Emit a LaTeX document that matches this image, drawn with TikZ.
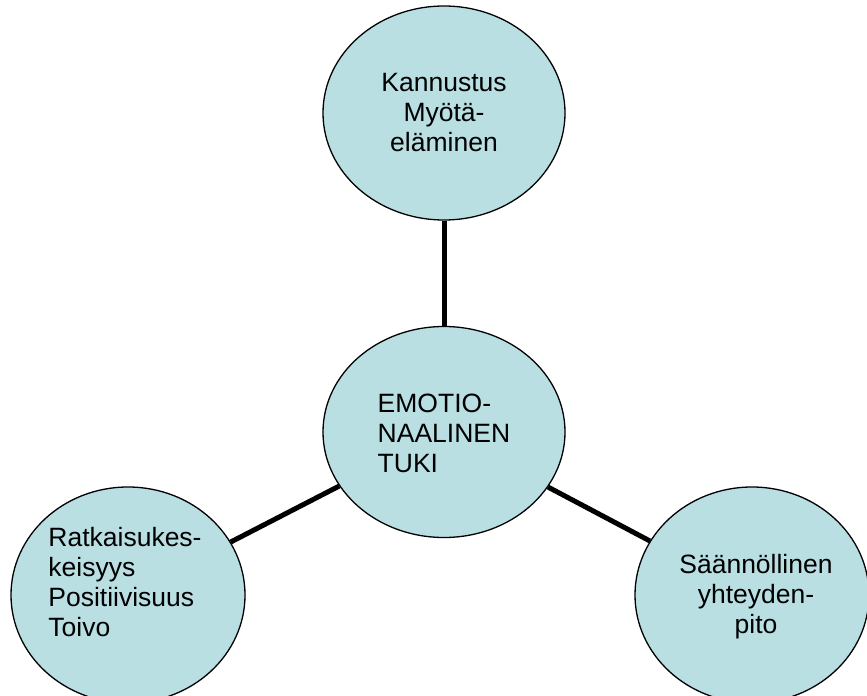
\documentclass[tikz,border=0pt]{standalone}
\usepackage{fontspec}
\setmainfont{Liberation Sans}
\usetikzlibrary{shapes.geometric}
\definecolor{bubblefill}{RGB}{185,223,227}
\tikzset{
  bubble/.style={ellipse, draw=black, line width=1.3bp, fill=bubblefill, inner sep=0pt},
  txt/.style={inner sep=0pt, font={\fontsize{26.5bp}{30bp}\selectfont}},
  conn/.style={draw=black, line width=5bp}
}
\begin{document}
\begin{tikzpicture}[x=1bp, y=-1bp]
\useasboundingbox (0,0) rectangle (867,696);
\clip (0,0) rectangle (867,696);
\node[bubble, minimum width=242bp, minimum height=214bp] (top) at (444,113) {};
\node[bubble, minimum width=242bp, minimum height=211bp] (mid) at (444,432) {};
\node[bubble, minimum width=234bp, minimum height=216bp] (left) at (128,595) {};
\node[bubble, minimum width=234bp, minimum height=216bp] (right) at (752,595) {};
\draw[conn] (mid) -- (top);
\draw[conn] (mid) -- (left);
\draw[conn] (mid) -- (right);
\node[txt, align=center] (toptxt) at (444,112.5) {Kannustus\\Myötä-\\eläminen};
\node[txt, align=left] (midtxt) at (444,433) {EMOTIO-\\NAALINEN\\TUKI};
\node[txt, align=left] (lefttxt) at (125,582) {Ratkaisukes-\\keisyys\\Positiivisuus\\Toivo};
\node[txt, align=center] (righttxt) at (756,597) {Säännöllinen\\yhteyden-\\pito};
\end{tikzpicture}
\end{document}
